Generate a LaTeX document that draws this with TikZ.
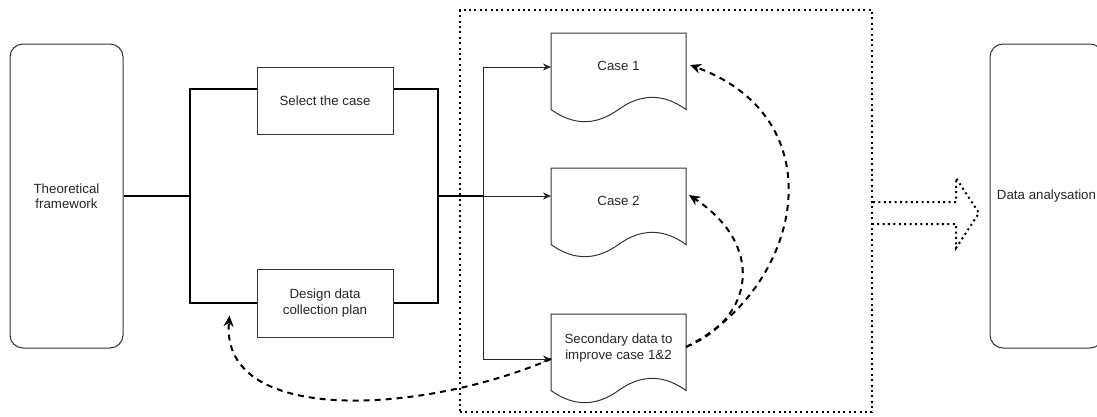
\documentclass[tikz,border=0pt]{standalone}
\usepackage{fontspec}
\setmainfont{Liberation Sans}
\usetikzlibrary{arrows.meta,calc}
\begin{document}
\begin{tikzpicture}[x=1pt,y=-1pt,
  lbl/.style={font=\fontsize{13.3}{15.5}\selectfont, align=center, text=black!85},
  boxst/.style={draw=black!80, line width=1pt, inner sep=0pt},
  rbox/.style={boxst, rounded corners=13pt},
  brk/.style={line width=2pt, draw=black},
  thinarr/.style={line width=1pt, draw=black!85, -{Stealth[length=8pt,width=7pt,inset=2.5pt]}},
  dsh/.style={line width=2pt, dash pattern=on 6pt off 5pt, -{Stealth[length=11pt,width=10pt,inset=3.5pt]}},
  dots/.style={line width=2pt, dash pattern=on 2pt off 3.4pt},
  docu/.pic={\draw[line width=1pt, draw=black!80] (0,0) -- (135,0) -- (135,76.5)
      .. controls (112.5,60.3) and (90,60.3) .. (67.5,76.5)
      .. controls (45,92.7) and (22.5,92.7) .. (0,76.5) -- cycle;}
]
\useasboundingbox (0,0) rectangle (1097,416);

% dotted group box
\node[dots, draw, minimum width=412pt, minimum height=402pt, inner sep=0pt] (grp) at (666,211) {};

% main boxes
\node[rbox, lbl, minimum width=113pt, minimum height=304pt] (tf) at (66.5,196) {Theoretical\\framework};
\node[rbox, lbl, minimum width=113pt, minimum height=304pt] (da) at (1046.5,196) {Data analysation};
\node[boxst, lbl, minimum width=136pt, minimum height=67pt] (sel) at (325,100.5) {Select the case};
\node[boxst, lbl, minimum width=136pt, minimum height=68pt] (des) at (325,303) {Design data\\collection plan};

% documents
\coordinate (c1) at (551,33);
\coordinate (c2) at (551,168);
\coordinate (c3) at (551,314);
\pic at (c1) {docu};
\pic at (c2) {docu};
\pic at (c3) {docu};
\node[lbl] (c1t) at ($(c1)+(67.5,33)$) {Case 1};
\node[lbl] (c2t) at ($(c2)+(67.5,33)$) {Case 2};
\node[lbl] (c3t) at ($(c3)+(67.5,34)$) {Secondary data to\\improve case 1\&2};

% brackets
\coordinate (lb) at (190,196);
\coordinate (rb) at (438,196);
\coordinate (jn) at (483,196);
\draw[brk] (tf.east) -- (lb);
\draw[brk] ($(sel.west)+(0,-11.5)$) -| (lb) |- (des.west);
\draw[brk] ($(sel.east)+(0,-11.5)$) -| (rb) |- (des.east);
\draw[brk] (rb) -- (jn);

% thin arrows
\draw[thinarr] (jn) |- ($(c1)+(0,34)$);
\draw[thinarr] (jn) -- ($(c2)+(0,28)$);
\draw[thinarr] (jn) |- ($(c3)+(0,45)$);

% dashed curves
\coordinate (s3) at ($(c3)+(135,33)$);
\draw[dsh] (s3) .. controls (800,290) and (840,120) .. ($(c1)+(139,32)$);
\draw[dsh] (s3) .. controls (755,318) and (765,245) .. ($(c2)+(138,27)$);
\draw[dsh] ($(c3)+(0,45)$) .. controls (420,415) and (220,425) .. ($(des.south west)+(-27,-22)$);

% dotted block arrow
\draw[dots] (grp.east |- 0,202) -- (956,202) -- (956,178) -- (979,213) -- (956,248) -- (956,224) -- (grp.east |- 0,224);
\end{tikzpicture}
\end{document}
